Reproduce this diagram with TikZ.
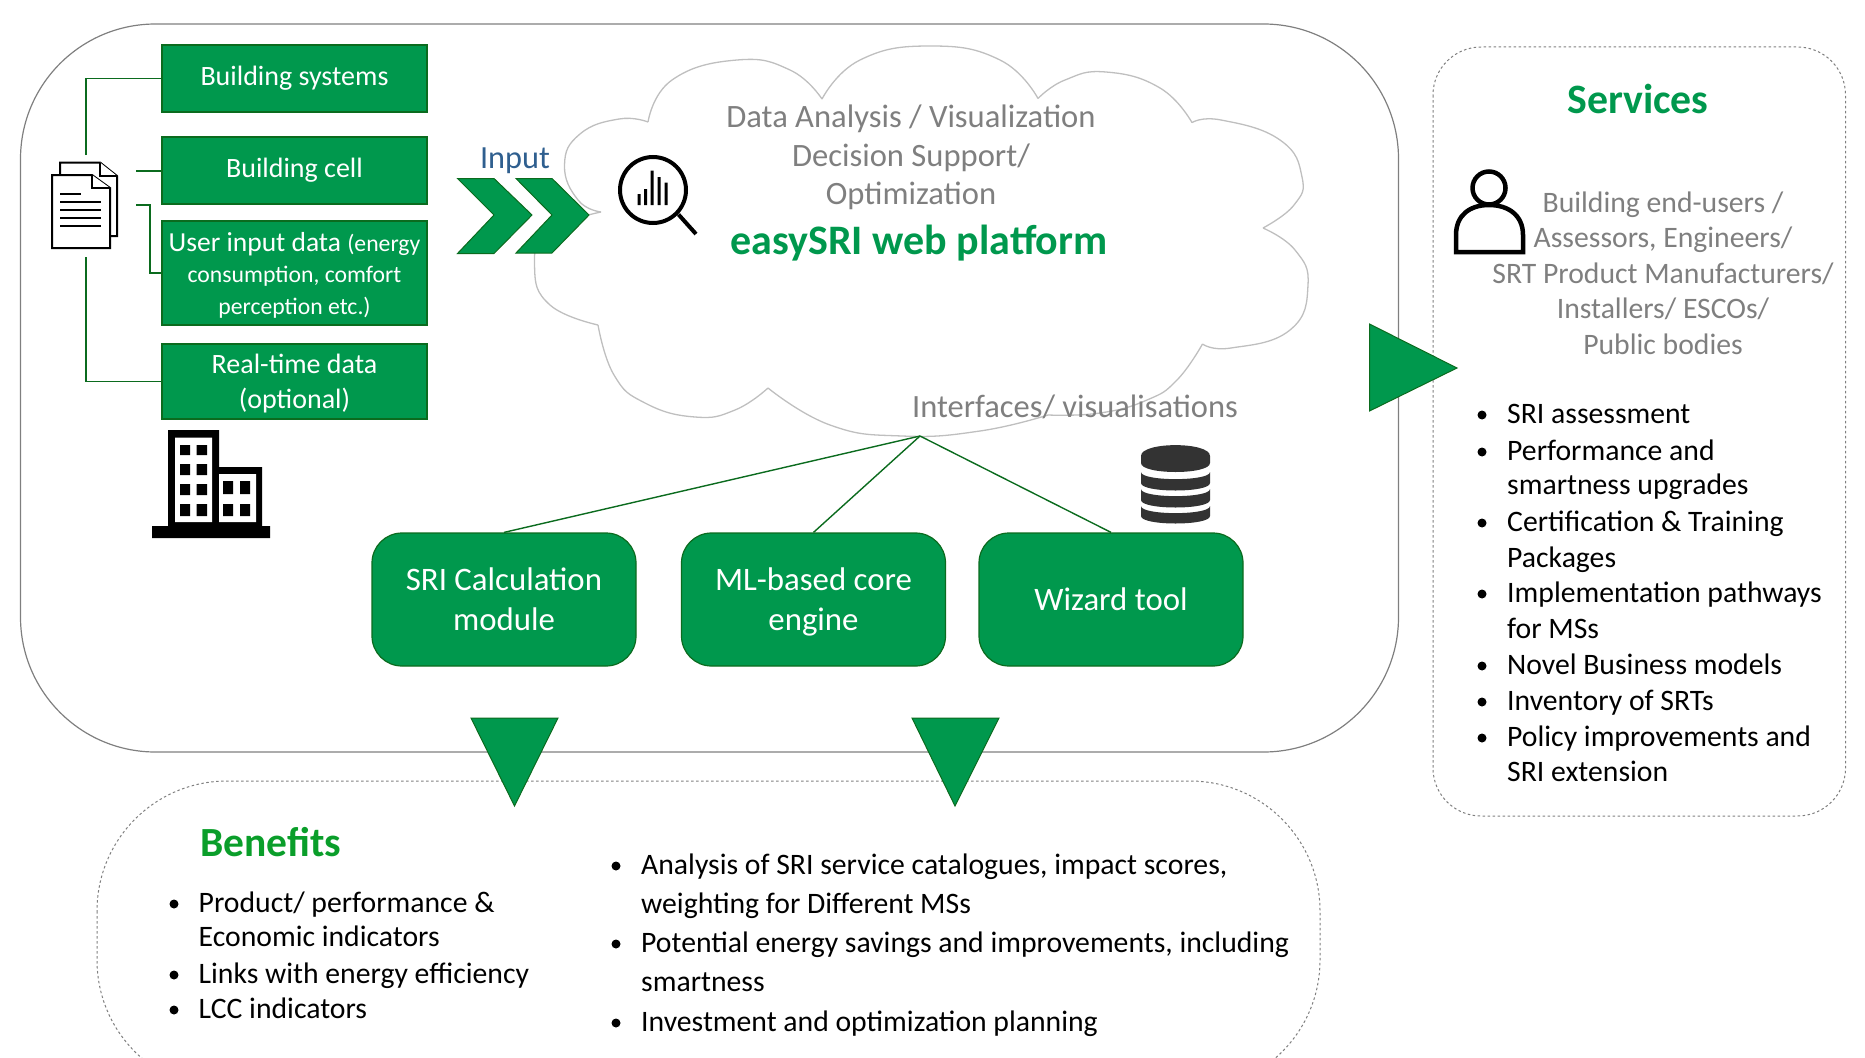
\documentclass[tikz,border=0pt]{standalone}
\usepackage{fontspec}
\setmainfont{Carlito}
\definecolor{gfill}{HTML}{00984D}
\definecolor{gline}{HTML}{0B6B1E}
\definecolor{gtext}{HTML}{00984D}
\definecolor{btext}{HTML}{0A9E2A}
\definecolor{gry}{HTML}{7F7F7F}
\definecolor{clo}{HTML}{BFBFBF}
\definecolor{inp}{HTML}{2F5F8F}
\definecolor{dbc}{HTML}{333333}
\tikzset{
  sbox/.style={draw=gline,fill=gfill,line width=1.2pt,text=white,minimum width=265pt,inner sep=0pt,align=center,font=\fontsize{28}{34.5}\selectfont},
  rbox/.style={draw=gline,fill=gfill,line width=1.2pt,text=white,minimum width=264pt,minimum height=133pt,rounded corners=30pt,inner sep=0pt,align=center,font=\fontsize{32.8}{40}\selectfont},
  conn/.style={draw=gline,line width=1.4pt},
  tri/.style={draw=gline,fill=gfill,line width=1pt},
  frame/.style={draw=gry,line width=1.2pt},
  dotf/.style={draw=gry,line width=1pt,dash pattern=on 2.5pt off 2.5pt},
  cloudl/.style={draw=clo,line width=1.3pt},
  icon/.style={draw=black,line width=2pt,fill=white},
  txt/.style={inner sep=0pt,anchor=base west,font=\fontsize{29.7}{29.7}\selectfont},
  gtxt/.style={inner sep=0pt,text=gry,align=center},
}
\begin{document}
\begin{tikzpicture}[x=1pt,y=-1pt]
\useasboundingbox (0,0) rectangle (1865,1057);
% frames
\draw[frame,rounded corners=135pt] (20.5,24) rectangle (1398.5,752);
\begin{scope}
\clip (0,0) rectangle (1865,1057);
\draw[dotf,rounded corners=130pt] (97,781) rectangle (1320,1090);
\end{scope}
\draw[dotf,rounded corners=48pt] (1433,47) rectangle (1845.5,816);
% cloud
\draw[cloudl] plot[smooth,tension=.8] coordinates {(601,212) (578,200) (564.5,165) (580,134) (619,119) (648,122)};
\draw[cloudl] plot[smooth,tension=.8] coordinates {(648,122) (672,80) (737,60) (790,70) (822,99)};
\draw[cloudl] plot[smooth,tension=.8] coordinates {(822,99) (860,60) (930.5,46) (1000,60) (1038,98.5)};
\draw[cloudl] plot[smooth,tension=.8] coordinates {(1038,98.5) (1065,80) (1106,72) (1160,88) (1192,122.6)};
\draw[cloudl] plot[smooth,tension=.8] coordinates {(1192,122.6) (1221,120) (1280,140) (1302,177) (1294,205) (1263,228)};
\draw[cloudl] plot[smooth,tension=.8] coordinates {(1263,228) (1295,250) (1308,285) (1290,330) (1231,348) (1202.5,344)};
\draw[cloudl] plot[smooth,tension=.8] coordinates {(1202.5,344) (1177,380) (1147,400) (1100,413) (1048,415)};
\draw[cloudl] plot[smooth,tension=.8] coordinates {(1048,415) (980,431) (902,436) (830,425) (768,388)};
\draw[cloudl] plot[smooth,tension=.8] coordinates {(768,388) (735,410) (695,417) (645,403) (614,375) (598,325)};
\draw[cloudl] plot[smooth,tension=.8] coordinates {(598,325) (550,305) (534.6,268) (548,232) (601,212)};
% cloud text
\node[gtxt,font=\fontsize{32.6}{38.5}\selectfont] (ct) at (911,157.5) {Data Analysis / Visualization\\Decision Support/\\Optimization};
\node[inner sep=0pt,text=gtext,font=\bfseries\fontsize{42}{42}\selectfont] (easy) at (919,243) {easySRI web platform};
\node[gtxt,font=\fontsize{32.5}{32.5}\selectfont] (ifc) at (1075,407) {Interfaces/ visualisations};
% green input boxes
\node[sbox,minimum height=67pt] (bs) at (294.5,78.5) {Building systems};
\node[sbox,minimum height=67pt] (bc) at (294.5,170.5) {Building cell};
\node[sbox,minimum height=104pt,font=\fontsize{23.7}{31.5}\selectfont] (ui) at (294.5,273) {{\fontsize{27.5}{31.5}\selectfont User input data }(energy\\consumption, comfort\\\smash{perception etc.)}};
\node[sbox,minimum height=75pt] (rt) at (294.5,381.5) {Real-time data\\\smash{(optional)}};
% document icon
\coordinate (c1) at (86,155);
\coordinate (c2) at (136,171);
\coordinate (c3) at (136,205);
\coordinate (c3b) at (150,205);
\coordinate (c4) at (86,257);
\draw[conn] (c1) |- (bs.west);
\draw[conn] (c2) -- (bc.west |- c2);
\draw[conn] (c3) -- (c3b) |- (ui.west);
\draw[conn] (c4) |- (rt.west);
\draw[icon] (60,162.5) -- (100,162.5) -- (117,176) -- (117,236) -- (60,236) -- cycle;
\draw[icon] (100,162.5) -- (100,176) -- (117,176);
\draw[icon] (52,175) -- (92,175) -- (110,188) -- (110,248) -- (52,248) -- cycle;
\draw[icon] (92,175) -- (92,188) -- (110,188);
\draw[black,line width=1.8pt] (60,194) -- (81,194) (60,202) -- (101,202) (60,210) -- (101,210) (60,218) -- (101,218) (60,226) -- (101,226);
% building icon
\fill[black] (168,430) rectangle (219,528) (219,467) rectangle (262,528) (152,526) rectangle (270,538);
\fill[white] (175,437.5) rectangle (212,522) (219,474) rectangle (256,522);
\fill[black] (180,445) rectangle (190,455) (196.5,445) rectangle (207,455)
 (180,464) rectangle (190,475) (196.5,464) rectangle (207,475)
 (180,484) rectangle (190,495) (196.5,484) rectangle (207,495)
 (180,504) rectangle (190,516) (196.5,504) rectangle (207,516)
 (223,481) rectangle (233,494) (240,481) rectangle (250,494)
 (223,504) rectangle (233,516) (240,504) rectangle (250,516);
% input
\node[inner sep=0pt,text=inp,font=\fontsize{32.3}{32.3}\selectfont] (inlab) at (515,161) {Input};
\draw[tri] (457.5,178.5) -- (494,178.5) -- (532,215) -- (494,253.5) -- (457.5,253.5) -- (494,215) -- cycle;
\draw[tri] (516,178.5) -- (552,178.5) -- (589,215) -- (552,253) -- (516,253) -- (552,215) -- cycle;
% magnifier
\draw[black,line width=4pt] (653,190) circle[radius=33];
\draw[black,line width=4pt] (678.5,214.5) -- (696,234);
\fill[black] (637.5,194) rectangle (640.5,205) (644,189) rectangle (647,205) (650.5,170.5) rectangle (653.5,205) (657.5,177) rectangle (660.5,205) (664.5,182.5) rectangle (667.5,205);
% rounded modules
\node[rbox] (m1) at (504,599.5) {SRI Calculation\\module};
\node[rbox] (m2) at (813.5,599.5) {ML-based core\\\smash{engine}};
\node[rbox] (m3) at (1111,599.5) {Wizard tool};
\coordinate (apex) at (920,436);
\draw[conn] (apex) -- (m1.north);
\draw[conn] (apex) -- (m2.north);
\draw[conn] (apex) -- (m3.north);
% database
\fill[dbc] (1141,456) .. controls (1141,441.5) and (1210,441.5) .. (1210,456) -- (1210,463) .. controls (1210,475) and (1141,475) .. (1141,463) -- cycle;
\foreach \a/\b in {472/483,489/500,506/516}{
 \fill[dbc] (1141,\a) .. controls (1141,\a+9.5) and (1210,\a+9.5) .. (1210,\a) -- (1210,\b) .. controls (1210,\b+10) and (1141,\b+10) .. (1141,\b) -- cycle;
}
% triangles
\draw[tri] (471,718) -- (558,718) -- (514.5,806) -- cycle;
\draw[tri] (912,718) -- (999,718) -- (955,806) -- cycle;
\draw[tri] (1369.5,324) -- (1457,368) -- (1369.5,411) -- cycle;
% services
\node[inner sep=0pt,text=gtext,font=\bfseries\fontsize{41.8}{41.8}\selectfont] (sv) at (1638,99) {Services};
\draw[black,line width=4.5pt] (1489,188) circle[radius=16.5];
\draw[black,line width=4.5pt] (1456,252) -- (1456,235) .. controls (1456,215) and (1470,205) .. (1489,205) .. controls (1508,205) and (1523,215) .. (1523,235) -- (1523,252) -- cycle;
\node[gtxt,font=\fontsize{29.7}{35.5}\selectfont] (su) at (1663,273) {Building end-users /\\Assessors, Engineers/\\SRT Product Manufacturers/\\Installers/ ESCOs/\\Public bodies};
% services list
\foreach \n/\yy/\bu/\t in {1/423/1/{SRI assessment},2/460/1/{Performance and},3/494/0/{smartness upgrades},4/531/1/{Certification \& Training},5/567/0/{Packages},6/602/1/{Implementation pathways},7/638/0/{for MSs},8/674/1/{Novel Business models},9/710/1/{Inventory of SRTs},10/746/1/{Policy improvements and},11/781/0/{SRI extension}}{
 \node[txt] (s\n) at (1507,\yy) {\t};
 \ifnum\bu=1 \fill[black] (1482,\yy-8) circle[radius=4.5]; \fi
}
% benefits
\node[inner sep=0pt,anchor=west,text=btext,font=\bfseries\fontsize{41.5}{41.5}\selectfont] (bn) at (200,842) {Benefits};
\foreach \n/\yy/\bu/\t in {1/912/1/{Product/ performance \&},2/946/0/{Economic indicators},3/983/1/{Links with energy efficiency},4/1018/1/{LCC indicators}}{
 \node[txt] (b\n) at (198.5,\yy) {\t};
 \ifnum\bu=1 \fill[black] (174,\yy-8) circle[radius=4.5]; \fi
}
\foreach \n/\yy/\bu/\t in {1/874/1/{Analysis of SRI service catalogues, impact scores,},2/913/0/{weighting for Different MSs},3/952/1/{Potential energy savings and improvements, including},4/991/0/{smartness},5/1031/1/{Investment and optimization planning}}{
 \node[txt] (k\n) at (641,\yy) {\t};
 \ifnum\bu=1 \fill[black] (616,\yy-8) circle[radius=4.5]; \fi
}
\end{tikzpicture}
\end{document}
